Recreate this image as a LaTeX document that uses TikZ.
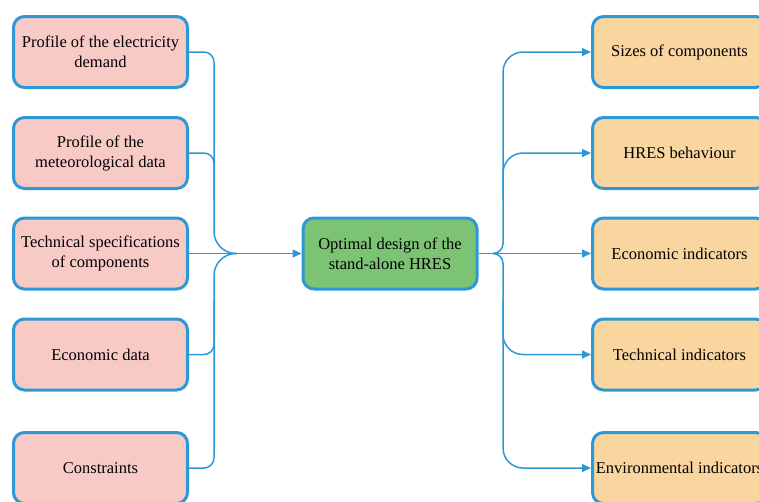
\documentclass[tikz,border=0pt]{standalone}
\usepackage{fontspec}
\setmainfont{Liberation Serif}
\usetikzlibrary{arrows.meta}
\definecolor{edgeblue}{HTML}{2C98D6}
\definecolor{inpink}{HTML}{F8CAC6}
\definecolor{outorange}{HTML}{F9D59F}
\definecolor{coregreen}{HTML}{7CC474}
\tikzset{
  box/.style={draw=edgeblue, line width=3pt, rounded corners=11pt,
    minimum width=174pt, minimum height=71pt, align=center,
    font=\fontsize{16.5}{20}\selectfont, inner sep=2pt},
  inbox/.style={box, fill=inpink},
  outbox/.style={box, fill=outorange},
  corebox/.style={box, fill=coregreen},
  conn/.style={draw=edgeblue, line width=1.5pt},
  tip/.style={-{Triangle[length=9pt,width=8pt]}}
}
\begin{document}
\begin{tikzpicture}[x=1pt,y=-1pt]
\useasboundingbox (0,0) rectangle (759,501);
\clip (0,0) rectangle (759,501);

% input boxes
\node[inbox] (L1) at (100.5,52)  {Profile of the electricity\\demand};
\node[inbox] (L2) at (100.5,153) {Profile of the\\meteorological data};
\node[inbox] (L3) at (100.5,253.5) {Technical specifications\\of components};
\node[inbox] (L4) at (100.5,354.5) {Economic data};
\node[inbox] (L5) at (100.5,468) {Constraints};

% central box
\node[corebox] (C) at (390,253.5) {Optimal design of the\\stand-alone HRES};

% output boxes
\node[outbox] (R1) at (679.5,52)  {Sizes of components};
\node[outbox] (R2) at (679.5,153) {HRES behaviour};
\node[outbox] (R3) at (679.5,253.5) {Economic indicators};
\node[outbox] (R4) at (679.5,354.5) {Technical indicators};
\node[outbox] (R5) at (679.5,468) {Environmental indicators};

% trunk points
\coordinate (tL) at (214,200);
\coordinate (bL) at (214,300);
\coordinate (mL) at (237,253.5);
\coordinate (mR) at (493,253.5);
\coordinate (tR) at (503,200);
\coordinate (bR) at (503,300);

% inputs merging into the central box
\draw[conn, rounded corners=10pt] (L1.east) -| (tL);
\draw[conn, rounded corners=10pt] (L2.east) -| (tL);
\draw[conn, rounded corners=10pt] (L4.east) -| (bL);
\draw[conn, rounded corners=10pt] (L5.east) -| (bL);
\draw[conn, rounded corners=22pt] (tL) |- (mL);
\draw[conn, rounded corners=22pt] (bL) |- (mL);
\draw[conn, tip] (L3.east) -- (C.west);

% central box fanning out to the results
\draw[conn, tip] (C.east) -- (R3.west);
\draw[conn, rounded corners=10pt] (mR) -| (tR);
\draw[conn, rounded corners=10pt] (mR) -| (bR);
\draw[conn, tip, rounded corners=20pt] (tR) |- (R1.west);
\draw[conn, tip, rounded corners=20pt] (tR) |- (R2.west);
\draw[conn, tip, rounded corners=20pt] (bR) |- (R4.west);
\draw[conn, tip, rounded corners=20pt] (bR) |- (R5.west);
\end{tikzpicture}
\end{document}
